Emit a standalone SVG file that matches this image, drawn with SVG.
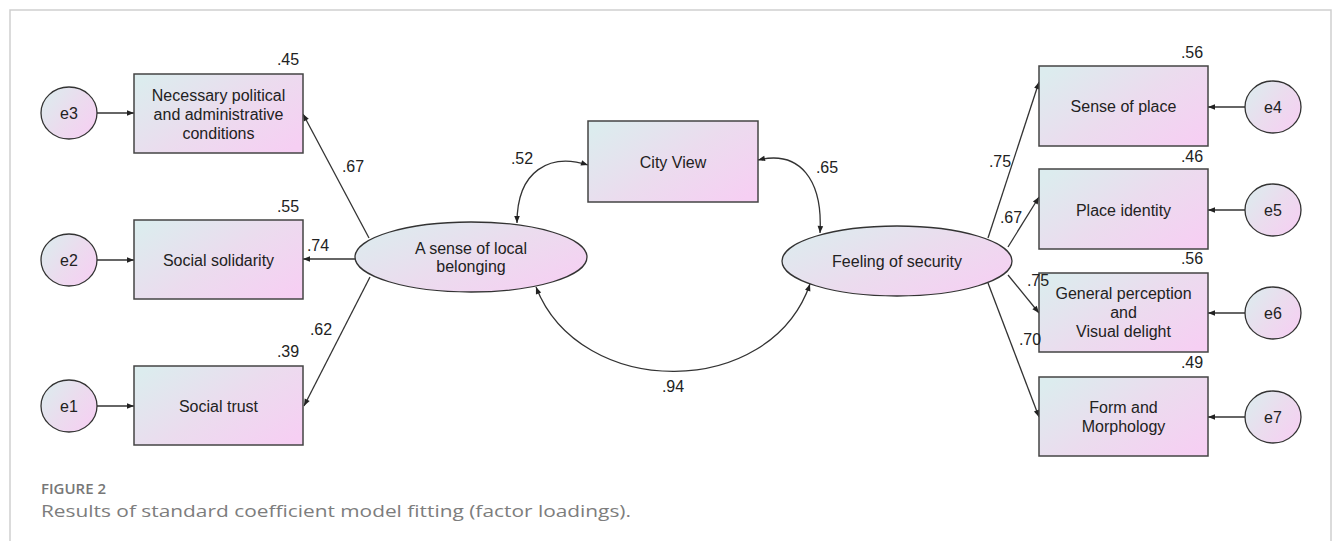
<svg xmlns="http://www.w3.org/2000/svg" width="1333" height="541" viewBox="0 0 1333 541">
<defs>
<linearGradient id="g" x1="0" y1="0.15" x2="1" y2="0.85">
<stop offset="0" stop-color="#dcecee"/>
<stop offset="0.5" stop-color="#ebdcee"/>
<stop offset="1" stop-color="#f6cff3"/>
</linearGradient>
<marker id="ah" viewBox="0 0 10 10" refX="10" refY="5" markerWidth="9" markerHeight="7" markerUnits="userSpaceOnUse" orient="auto-start-reverse">
<path d="M0 1 L10 5 L0 9 Z" fill="#222"/>
</marker>
<style>
.box{fill:url(#g);stroke:#444;stroke-width:1.5}
.lat{fill:url(#g);stroke:#333;stroke-width:1.3}
.t{font-family:"Liberation Sans",Arial,sans-serif;font-size:16px;fill:#222;text-anchor:middle}
.n{font-family:"Liberation Sans",Arial,sans-serif;font-size:16px;fill:#222;text-anchor:middle}
.c{fill:none;stroke:#333;stroke-width:1.3}
.a{marker-end:url(#ah)}
.b{marker-start:url(#ah);marker-end:url(#ah)}
</style>
</defs>
<rect width="1333" height="541" fill="#fff"/>
<path d="M10 541 L10 10 L1331 10 L1331 541" fill="none" stroke="#cfcfcf" stroke-width="1.5"/>

<g id="connectors">
<path class="c a" d="M97 113 L134 113"/>
<path class="c a" d="M97 260 L134 260"/>
<path class="c a" d="M97 406 L134 406"/>
<path class="c a" d="M369 238 L303 114"/>
<path class="c a" d="M355 259 L303 259"/>
<path class="c a" d="M370 277 L304 406"/>
<path class="c a" d="M1245 107 L1208 107"/>
<path class="c a" d="M1245 210 L1208 210"/>
<path class="c a" d="M1245 313 L1208 313"/>
<path class="c a" d="M1245 417 L1208 417"/>
<path class="c a" d="M988 238 L1039 82"/>
<path class="c a" d="M1008 247 L1039 197"/>
<path class="c a" d="M1008 275 L1039 313"/>
<path class="c a" d="M988 283 L1039 417"/>
<path class="c b" d="M588 165 C550 153 517 170 517 223"/>
<path class="c b" d="M758 160 C800 150 823 180 820 233"/>
<path class="c b" d="M536 287 C580 400 770 400 810 284"/>
</g>

<g id="e3"><ellipse class="lat" cx="69" cy="113" rx="28" ry="26"/><text class="t" x="69" y="119">e3</text></g>
<g id="e2"><ellipse class="lat" cx="69" cy="260" rx="28" ry="26"/><text class="t" x="69" y="266">e2</text></g>
<g id="e1"><ellipse class="lat" cx="69" cy="406" rx="28" ry="26"/><text class="t" x="69" y="412">e1</text></g>

<g id="npac"><rect class="box" x="134" y="74" width="169" height="79"/>
<text class="t" x="218.5" y="101">Necessary political</text>
<text class="t" x="218.5" y="120">and administrative</text>
<text class="t" x="218.5" y="139">conditions</text>
<text class="n" x="288" y="65">.45</text></g>
<g id="solidarity"><rect class="box" x="134" y="220" width="169" height="79"/>
<text class="t" x="218.5" y="266">Social solidarity</text>
<text class="n" x="288" y="212">.55</text></g>
<g id="trust"><rect class="box" x="134" y="366" width="169" height="79"/>
<text class="t" x="218.5" y="412">Social trust</text>
<text class="n" x="288" y="357">.39</text></g>

<g id="belonging"><ellipse class="lat" cx="471" cy="257" rx="116" ry="35"/>
<text class="t" x="471" y="254">A sense of local</text>
<text class="t" x="471" y="272">belonging</text></g>

<g id="cityview"><rect class="box" x="588" y="121" width="170" height="81"/>
<text class="t" x="673" y="168">City View</text></g>

<g id="security"><ellipse class="lat" cx="897" cy="261" rx="115" ry="35"/>
<text class="t" x="897" y="267">Feeling of security</text></g>

<g id="senseplace"><rect class="box" x="1039" y="66" width="169" height="80"/>
<text class="t" x="1123.5" y="112">Sense of place</text>
<text class="n" x="1192" y="58">.56</text></g>
<g id="placeidentity"><rect class="box" x="1039" y="169" width="169" height="80"/>
<text class="t" x="1123.5" y="216">Place identity</text>
<text class="n" x="1192" y="162">.46</text></g>
<g id="perception"><rect class="box" x="1039" y="273" width="169" height="79"/>
<text class="t" x="1123.5" y="299">General perception</text>
<text class="t" x="1123.5" y="318">and</text>
<text class="t" x="1123.5" y="337">Visual delight</text>
<text class="n" x="1192" y="264">.56</text></g>
<g id="form"><rect class="box" x="1039" y="377" width="169" height="79"/>
<text class="t" x="1123.5" y="413">Form and</text>
<text class="t" x="1123.5" y="432">Morphology</text>
<text class="n" x="1192" y="368">.49</text></g>

<g id="e4"><ellipse class="lat" cx="1273" cy="107" rx="28" ry="26"/><text class="t" x="1273" y="113">e4</text></g>
<g id="e5"><ellipse class="lat" cx="1273" cy="210" rx="28" ry="26"/><text class="t" x="1273" y="216">e5</text></g>
<g id="e6"><ellipse class="lat" cx="1273" cy="313" rx="28" ry="26"/><text class="t" x="1273" y="319">e6</text></g>
<g id="e7"><ellipse class="lat" cx="1273" cy="417" rx="28" ry="26"/><text class="t" x="1273" y="423">e7</text></g>

<g id="connector-labels">
<text class="n" x="353" y="172">.67</text>
<text class="n" x="318" y="251">.74</text>
<text class="n" x="321" y="335">.62</text>
<text class="n" x="522" y="164">.52</text>
<text class="n" x="827" y="173">.65</text>
<text class="n" x="673" y="392">.94</text>
<text class="n" x="1000" y="167">.75</text>
<text class="n" x="1011" y="223">.67</text>
<text class="n" x="1038" y="286">.75</text>
<text class="n" x="1030" y="345">.70</text>
</g>

<g id="caption">
<text x="41" y="494" font-family="'Open Sans','Noto Sans',sans-serif" font-size="15" font-weight="600" fill="#777">FIGURE 2</text>
<text x="41" y="517" font-family="'Open Sans','Noto Sans',sans-serif" font-size="17" fill="#7d7d7d" textLength="590" lengthAdjust="spacingAndGlyphs">Results of standard coefficient model fitting (factor loadings).</text>
</g>
</svg>
